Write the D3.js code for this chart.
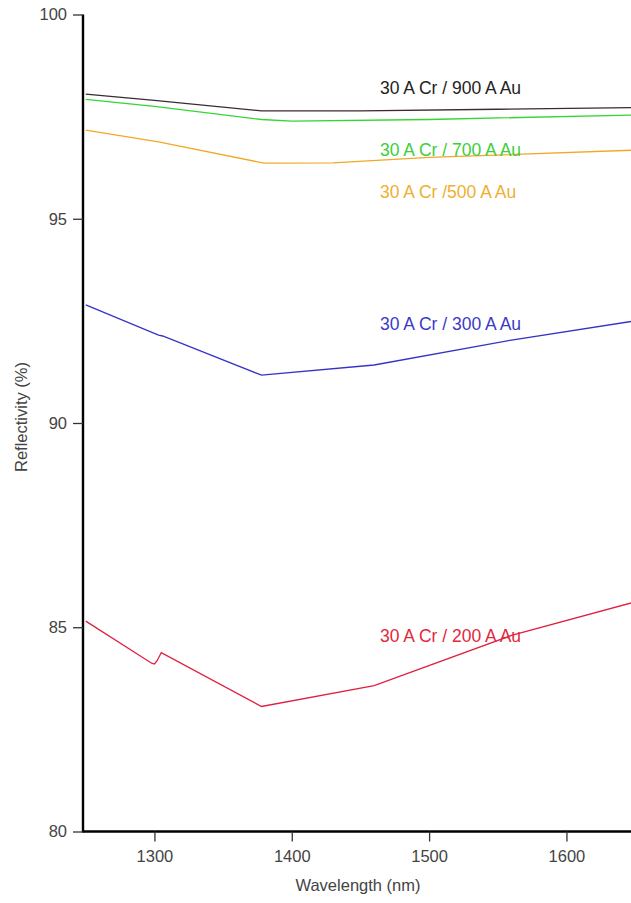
<!DOCTYPE html>
<html>
<head>
<meta charset="utf-8">
<script src="https://cdn.jsdelivr.net/npm/d3@7"></script>
<style>
  body { margin: 0; background: #fff; }
  svg { display: block; font-family: "Liberation Sans", Arial, sans-serif; }
</style>
</head>
<body>
<svg id="chart" width="631" height="903"></svg>
<script>
// --- data ---
const xTicks = [1300, 1400, 1500, 1600];
const yTicks = [80, 85, 90, 95, 100];

const wl900 = [1250, 1300, 1378, 1450, 1550, 1650];
const r900  = [98.05, 97.90, 97.64, 97.64, 97.68, 97.72];

const wl700 = [1250, 1300, 1378, 1400, 1500, 1650];
const r700  = [97.92, 97.75, 97.43, 97.39, 97.43, 97.54];

const wl500 = [1250, 1303, 1380, 1430, 1500, 1650];
const r500  = [97.17, 96.88, 96.36, 96.37, 96.50, 96.68];

const wl300 = [1250, 1303, 1306, 1378, 1460, 1560, 1650];
const r300  = [92.89, 92.15, 92.13, 91.17, 91.42, 92.03, 92.50];

const wl200 = [1250, 1298, 1300, 1302, 1305, 1378, 1460, 1560, 1650];
const r200  = [85.15, 84.12, 84.10, 84.18, 84.38, 83.06, 83.57, 84.80, 85.62];

const series = [
  { label: "30 A Cr / 900 A Au", wl: wl900, r: r900, line: "#3b2a33", text: "#222222", ly: 98.05 },
  { label: "30 A Cr / 700 A Au", wl: wl700, r: r700, line: "#33d633", text: "#3ccf3c", ly: 96.53 },
  { label: "30 A Cr /500 A Au",  wl: wl500, r: r500, line: "#f2a824", text: "#eeb030", ly: 95.51 },
  { label: "30 A Cr / 300 A Au", wl: wl300, r: r300, line: "#3434c4", text: "#3a3ac8", ly: 92.28 },
  { label: "30 A Cr / 200 A Au", wl: wl200, r: r200, line: "#e02040", text: "#e3283c", ly: 84.64 }
];

const svg = d3.select("#chart");
const x = d3.scaleLinear().domain([1248, 1647]).range([83, 631]);
const y = d3.scaleLinear().domain([80, 100]).range([831.5, 14.5]);

svg.append("clipPath").attr("id", "clip")
  .append("rect").attr("x", 83).attr("y", 0).attr("width", 548).attr("height", 831);

const line = d3.line().x(d => x(d[0])).y(d => y(d[1]));

const g = svg.append("g").attr("clip-path", "url(#clip)");
series.forEach(s => {
  g.append("path")
    .datum(s.wl.map((w, i) => [w, s.r[i]]))
    .attr("fill", "none")
    .attr("stroke", s.line)
    .attr("stroke-width", 1.3)
    .attr("d", line);
});

series.forEach(s => {
  svg.append("text")
    .attr("x", 380).attr("y", y(s.ly))
    .attr("fill", s.text)
    .attr("font-size", 17.5)
    .text(s.label);
});

// axes
const xAxis = svg.append("g").attr("transform", "translate(0,831.5)")
  .call(d3.axisBottom(x).tickValues(xTicks).tickFormat(d3.format("d"))
    .tickSize(10).tickPadding(9).tickSizeOuter(0));
const yAxis = svg.append("g").attr("transform", "translate(83,0)")
  .call(d3.axisLeft(y).tickValues(yTicks).tickFormat(d3.format("d"))
    .tickSize(10).tickPadding(6).tickSizeOuter(0));

[xAxis, yAxis].forEach(a => {
  a.select(".domain").attr("stroke", "#000").attr("stroke-width", 2.4);
  a.selectAll(".tick line").attr("stroke", "#333").attr("stroke-width", 1.3);
  a.selectAll(".tick text").attr("fill", "#444").attr("font-size", 16.5)
    .attr("font-family", "\"Liberation Sans\", Arial, sans-serif");
});
// tick marks only sit outside the frame
xAxis.select(".domain").attr("d", "M83,0H631");
yAxis.select(".domain").attr("d", "M0,14.5V832.5");

svg.append("text")
  .attr("x", 358).attr("y", 891)
  .attr("text-anchor", "middle")
  .attr("fill", "#444").attr("font-size", 16.5)
  .text("Wavelength (nm)");

svg.append("text")
  .attr("transform", "translate(27,417) rotate(-90)")
  .attr("text-anchor", "middle")
  .attr("fill", "#444").attr("font-size", 16.5)
  .text("Reflectivity (%)");
</script>
</body>
</html>
